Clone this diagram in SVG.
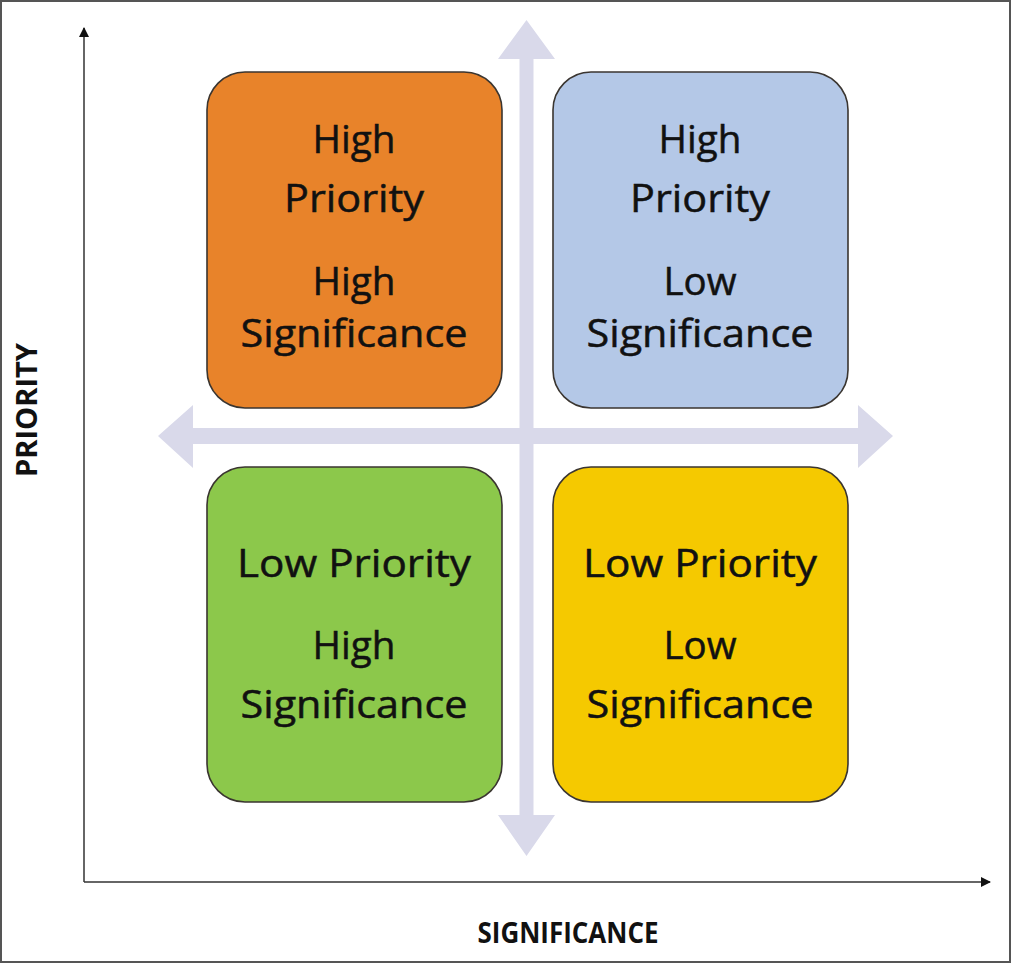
<svg xmlns="http://www.w3.org/2000/svg" width="1011" height="964" viewBox="0 0 1011 964">
<defs>
<style>
.box{stroke:#3a3530;stroke-width:1.6}
.lbl{font-family:"Open Sans","Liberation Sans",sans-serif;font-size:38px;fill:#111;stroke:#111;stroke-width:0.5;text-anchor:middle}
.ax{font-family:"Open Sans","Liberation Sans",sans-serif;font-size:28px;font-weight:bold;fill:#111;text-anchor:middle}
.axis{stroke:#333;stroke-width:1.5;fill:none}
.pale{fill:#d9d9ea}
</style>
<marker id="ah" markerWidth="10" markerHeight="10" refX="9" refY="5" orient="auto" markerUnits="userSpaceOnUse">
<path d="M0,0 L10,5 L0,10 Z" fill="#111"/>
</marker>
</defs>
<rect x="0" y="0" width="1011" height="964" fill="#fff"/>
<rect x="1" y="1" width="1009" height="961" fill="none" stroke="#555" stroke-width="2"/>

<g id="connectors">
<line class="axis" x1="84" y1="882" x2="84" y2="28" marker-end="url(#ah)"/>
<line class="axis" x1="84" y1="882" x2="990" y2="882" marker-end="url(#ah)"/>
<path class="pale" d="M526.5,20 L555,59 L533.5,59 L533.5,815 L555,815 L526.5,856 L498,815 L519.5,815 L519.5,59 L498,59 Z"/>
<path class="pale" d="M158,436 L193,405 L193,428 L858,428 L858,405 L893,436 L858,468 L858,444 L193,444 L193,468 Z"/>
</g>

<g id="hp-hs">
<rect class="box" x="207" y="72" width="295" height="336" rx="38" fill="#e8832a"/>
<text class="lbl" x="354" y="153" textLength="83" lengthAdjust="spacingAndGlyphs">High</text>
<text class="lbl" x="354" y="212" textLength="140" lengthAdjust="spacingAndGlyphs">Priority</text>
<text class="lbl" x="354" y="295" textLength="83" lengthAdjust="spacingAndGlyphs">High</text>
<text class="lbl" x="354" y="347" textLength="227" lengthAdjust="spacingAndGlyphs">Significance</text>
</g>

<g id="hp-ls">
<rect class="box" x="553" y="72" width="295" height="336" rx="38" fill="#b4c8e7"/>
<text class="lbl" x="700" y="153" textLength="83" lengthAdjust="spacingAndGlyphs">High</text>
<text class="lbl" x="700" y="212" textLength="140" lengthAdjust="spacingAndGlyphs">Priority</text>
<text class="lbl" x="700" y="295" textLength="73" lengthAdjust="spacingAndGlyphs">Low</text>
<text class="lbl" x="700" y="347" textLength="227" lengthAdjust="spacingAndGlyphs">Significance</text>
</g>

<g id="lp-hs">
<rect class="box" x="207" y="467" width="295" height="335" rx="38" fill="#8cc84b"/>
<text class="lbl" x="354" y="577" textLength="234" lengthAdjust="spacingAndGlyphs">Low Priority</text>
<text class="lbl" x="354" y="659" textLength="83" lengthAdjust="spacingAndGlyphs">High</text>
<text class="lbl" x="354" y="718" textLength="227" lengthAdjust="spacingAndGlyphs">Significance</text>
</g>

<g id="lp-ls">
<rect class="box" x="553" y="467" width="295" height="335" rx="38" fill="#f5c900"/>
<text class="lbl" x="700" y="577" textLength="234" lengthAdjust="spacingAndGlyphs">Low Priority</text>
<text class="lbl" x="700" y="659" textLength="73" lengthAdjust="spacingAndGlyphs">Low</text>
<text class="lbl" x="700" y="718" textLength="227" lengthAdjust="spacingAndGlyphs">Significance</text>
</g>

<g id="axis-labels">
<text class="ax" x="568" y="943" textLength="181" lengthAdjust="spacingAndGlyphs">SIGNIFICANCE</text>
<text class="ax" transform="translate(37,410) rotate(-90)" x="0" y="0" textLength="134" lengthAdjust="spacingAndGlyphs">PRIORITY</text>
</g>
</svg>
